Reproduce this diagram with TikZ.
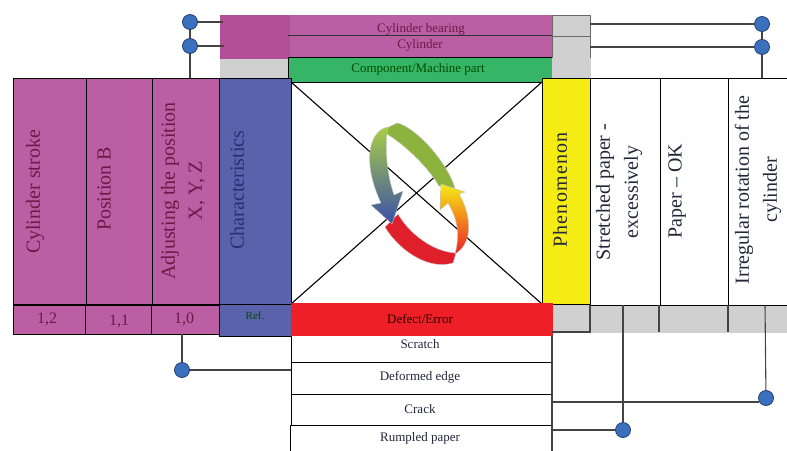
\documentclass[tikz,border=0pt]{standalone}
\usepackage{fontspec}
\setmainfont{Liberation Serif}
\usetikzlibrary{calc}
\definecolor{mag}{HTML}{BB5EA3}
\definecolor{magd}{HTML}{B34E99}
\definecolor{blu}{HTML}{5A62AB}
\definecolor{grn}{HTML}{36B566}
\definecolor{gry}{HTML}{CFD0CF}
\definecolor{yel}{HTML}{F5EC14}
\definecolor{redd}{HTML}{EE1F26}
\definecolor{dotc}{HTML}{3A70BE}
\definecolor{txt}{HTML}{701848}
\definecolor{txb}{HTML}{2A2F70}
\definecolor{txk}{HTML}{22283A}
\definecolor{lin}{HTML}{444444}
\definecolor{ringg}{HTML}{8DB33F}
\definecolor{ringt}{HTML}{A9CF46}
\definecolor{ringm}{HTML}{8FB0DC}
\definecolor{ringb}{HTML}{3A4FA8}
\definecolor{ringr}{HTML}{DF1F2A}
\definecolor{ringo}{HTML}{F9A01B}
\tikzset{
 x=1pt,y=-1pt,
 box/.style={draw=#1,line width=1pt,anchor=north west,inner sep=0pt,outer sep=0pt},
 box/.default=black,
 vlab/.style={rotate=90,align=center,font=\fontsize{20}{27}\selectfont,text=txt,inner sep=0pt},
 vblack/.style={rotate=90,align=center,font=\fontsize{20}{28}\selectfont,text=txk,inner sep=0pt},
 rowlab/.style={font=\fontsize{13}{15}\selectfont,text=txk,inner sep=0pt},
 numlab/.style={font=\fontsize{16}{16}\selectfont,text=txt,inner sep=0pt},
 dot/.style={circle,fill=dotc,draw=dotc!60!black,line width=.8pt,minimum size=15pt,inner sep=0pt},
 conn/.style={draw=lin,line width=1.1pt},
 ring/.style={draw=gray!45,line width=.4pt},
}
\newcommand{\blk}[7]{% name, style, x, y, w, h, fill
 \node[#2,fill=#7,minimum width=#5pt,minimum height=#6pt] (#1) at (#3,#4) {};}
\begin{document}
\begin{tikzpicture}
\useasboundingbox (0,0) rectangle (787,450);
\node[dot] (dA) at (190,22) {};
\node[dot] (dB) at (190,46) {};
\node[dot] (dC) at (182,370) {};
\node[dot] (dD) at (762,24) {};
\node[dot] (dE) at (762,47) {};
\node[dot] (dF) at (766,398) {};
\node[dot] (dG) at (623,430) {};
% top blocks
\blk{tm}{box=magd}{220}{15}{70}{44}{magd}
\blk{tg}{box=gry}{220}{59}{69}{19}{gry}
\blk{cb}{box=mag!85!gray}{290}{15}{262}{20}{mag}
\blk{cy}{box=mag!85!gray}{290}{35}{262}{22}{mag}
\blk{gb}{box}{288}{57}{264}{25}{grn}
\blk{rg1}{box=lin!80}{552}{15}{38}{21}{gry}
\blk{rg2}{box=lin!80}{552}{36}{38}{22}{gry}
\blk{rg3}{box=gry}{552}{58}{38}{19}{gry}
% left columns
\blk{c1}{box}{13}{78}{73}{226}{mag}
\blk{c2}{box}{86}{78}{66}{226}{mag}
\blk{c3}{box}{152}{78}{67}{226}{mag}
\blk{ch}{box}{219}{78}{72}{226}{blu}
\blk{n1}{box}{13}{305}{72}{29}{mag}
\blk{n2}{box}{85}{305}{66}{29}{mag}
\blk{n3}{box}{151}{305}{68}{29}{mag}
\blk{rf}{box}{219}{304}{72}{32}{blu}
% centre
\blk{cen}{box}{291}{82}{251}{222}{white}
\draw[black,line width=1.1pt] (cen.north west) -- (cen.south east) (cen.north east) -- (cen.south west);
% right columns
\blk{sg}{box=gry}{552}{305}{235}{27}{gry}
\blk{ph}{box}{542}{78}{48}{226}{yel}
\blk{w1}{box}{590}{78}{70}{227}{white}
\blk{w2}{box}{660}{78}{68}{227}{white}
\blk{w3}{box}{728}{78}{65}{227}{white}
% rows
\blk{r1}{box}{291}{335}{261}{27}{white}
\blk{r2}{box}{291}{362}{261}{32}{white}
\blk{r3}{box}{291}{394}{261}{31}{white}
\blk{r4}{box}{290}{425}{262}{30}{white}
\blk{rd}{box=redd}{291}{303}{261}{32}{redd}
% ring
\draw[ring,fill=ringr] (385,227) -- (398,214)
 .. controls (408,232) and (432,252) .. (456,253)
 -- (453,263)
 .. controls (425,271) and (396,246) .. (385,227) -- cycle;
\draw[ring,fill=ringg] (387,128) -- (397,123)
 .. controls (415,127) and (446,160) .. (455,188)
 -- (439,186)
 .. controls (428,167) and (405,145) .. (387,134) -- cycle;
\shade[top color=yel,middle color=ringo,bottom color=redd,draw=gray!45,line width=.4pt]
 (441,184) -- (465,192) -- (459,194)
 .. controls (470,212) and (475,242) .. (455,254)
 .. controls (460,235) and (458,220) .. (448,203)
 -- (440,210) -- cycle;
\shade[top color=ringt,middle color=ringm,bottom color=ringb,draw=gray!45,line width=.4pt]
 (388,127)
 .. controls (370,130) and (361,160) .. (381,203)
 -- (371,205) -- (392,224) -- (403,191) -- (394,195)
 .. controls (387,175) and (385,150) .. (387,133) -- cycle;
% connectors
\draw[conn] (dA) -- (dB);
\draw[conn] (dB) -- (dB |- tg.south);
\coordinate (tA) at (223,22); \coordinate (tB) at (224,46);
\draw[conn] (dA) -- (tA);
\draw[conn] (dB) -- (tB);
\draw[conn] (dD) -- (dD -| rg1.east);
\draw[conn] (dE) -- (dE -| rg2.east);
\draw[conn] (dD) -- (dE);
\draw[conn] (dE) -- (dE |- w3.north);
\draw[conn] (dC) -- (dC |- n3.south);
\draw[conn] (dC) -- (dC -| r1.west);
\coordinate (fT) at (765,305); \coordinate (gT) at (623,305);
\coordinate (fR) at (759,402); \coordinate (fL) at (552,402);
\coordinate (gL) at (552,430);
\draw[conn] (dF) -- (fT);
\draw[conn] (dG) -- (gT);
\draw[conn] (fR) -- (fL);
\draw[conn] (dG) -- (gL);
\coordinate (s0) at (552,332);
\coordinate (s1) at (590,332); \coordinate (s1a) at (590,305);
\coordinate (s2) at (659,332); \coordinate (s2a) at (659,305);
\coordinate (s3) at (728,332); \coordinate (s3a) at (728,305);
\draw[conn] (s1a) -- (s1) -- (s0);
\draw[conn] (s2a) -- (s2);
\draw[conn] (s3a) -- (s3);
\coordinate (hL) at (288,35); \coordinate (hR) at (552,35);
\draw[black!80,line width=1pt] (hL) -- (hR);
\draw[conn] (r1.north east) -- (r4.south east);
% labels
\node[rowlab,text=txt] (lcb) at (421,29) {Cylinder bearing};
\node[rowlab,text=txt] (lcy) at (420,45) {Cylinder};
\node[rowlab,text=black!70!green] (lgb) at (418,69) {Component/Machine part};
\node[vlab] (l1) at (35,192) {Cylinder stroke};
\node[vlab] (l2) at (104,189) {Position B};
\node[vlab] (l3) at (183,191) {Adjusting the position\\X, Y, Z};
\node[vlab,text=txb] (l4) at (237,190) {Characteristics};
\node[vblack,font=\fontsize{20}{28}\selectfont\addfontfeature{LetterSpace=6}] (l5) at (560,190) {Phenomenon};
\node[vblack] (l6) at (619,192) {Stretched paper -\\excessively};
\node[vblack] (l7) at (677,191) {Paper – OK};
\node[vblack] (l8) at (758,190) {Irregular rotation of the\\cylinder};
\node[numlab] (t1) at (47,319) {1,2};
\node[numlab] (t2) at (119,321) {1,1};
\node[numlab] (t3) at (184,319) {1,0};
\node[font=\fontsize{11}{11}\selectfont,text=black!70!green,inner sep=0pt] (t4) at (255,316) {Ref.};
\node[rowlab,text=black!85!red] (e0) at (420,319) {Defect/Error};
\node[rowlab] (e1) at (420,344) {Scratch};
\node[rowlab] (e2) at (420,377) {Deformed edge};
\node[rowlab] (e3) at (420,409) {Crack};
\node[rowlab] (e4) at (420,438) {Rumpled paper};
\end{tikzpicture}
\end{document}
